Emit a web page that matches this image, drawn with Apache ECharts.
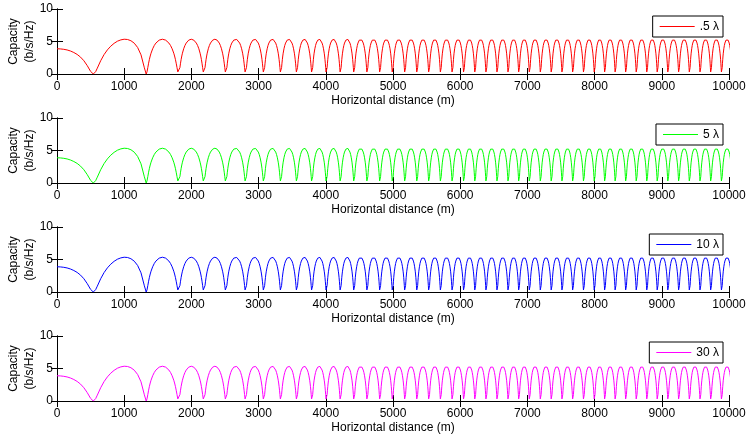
<!DOCTYPE html>
<html>
<head>
<meta charset="utf-8">
<title>Capacity vs horizontal distance</title>
<script src="https://cdn.jsdelivr.net/npm/echarts@6/dist/echarts.min.js"></script>
<style>
  html, body { margin: 0; padding: 0; background: #fff; }
  #chart { width: 747px; height: 434px; }
</style>
</head>
<body>
<div id="chart"></div>
<script>
// Antenna spacing of each panel
const spacingLabels = ['.5 \u03bb', '5 \u03bb', '10 \u03bb', '30 \u03bb'];

// Capacity (b/s/Hz) from 0 m through the first full lobe
const nearDist = [0, 50, 100, 150, 200, 250, 300, 350, 400, 450, 500, 540,
  575, 600, 650, 700, 750, 800, 850, 900, 950, 1000, 1050, 1100, 1150,
  1200, 1250, 1300, 1327];
const nearCap = [3.88, 3.86, 3.80, 3.70, 3.54, 3.31, 3.01, 2.60, 2.04, 1.29, 0.40, 0,
  0.36, 0.90, 2.04, 2.98, 3.71, 4.28, 4.72, 5.05, 5.25, 5.35, 5.31, 5.12, 4.74,
  4.08, 2.95, 0.95, 0];

// Distances (m) where the capacity drops to zero, from the second null on;
// the last one sits just past the end of the axis
const nullDist = [1327, 1810, 2186, 2513, 2806, 3077, 3330, 3568, 3794, 4009,
  4218, 4420, 4616, 4806, 4993, 5178, 5358, 5535, 5709, 5883,
  6054, 6221, 6387, 6551, 6715, 6874, 7032, 7196, 7358, 7518,
  7677, 7838, 7998, 8153, 8309, 8466, 8623, 8780, 8935, 9093,
  9254, 9413, 9572, 9731, 9891, 10051];

// Shape of one lobe between two neighbouring nulls
const archFrac = [0, 0.01, 0.025, 0.05, 0.075, 0.1, 0.125, 0.15, 0.2, 0.25, 0.3,
  0.35, 0.4, 0.45, 0.5, 0.55, 0.6, 0.65, 0.7, 0.75, 0.8, 0.85, 0.875, 0.9,
  0.925, 0.95, 0.975, 0.99, 1];
const archCap = [0, 0.06, 0.32, 0.98, 1.66, 2.26, 2.77, 3.20, 3.88, 4.39, 4.76,
  5.03, 5.21, 5.32, 5.35, 5.32, 5.21, 5.03, 4.76, 4.39, 3.88, 3.20, 2.77, 2.26,
  1.66, 0.98, 0.32, 0.06, 0];

// x/y pairs for the line series
function buildCurve() {
  const pts = nearDist.map((d, i) => [d, nearCap[i]]);
  for (let i = 0; i + 1 < nullDist.length; i++) {
    const a = nullDist[i], b = nullDist[i + 1];
    for (let j = 1; j < archFrac.length; j++) {
      pts.push([a + archFrac[j] * (b - a), archCap[j]]);
    }
  }
  return pts;
}
const curve = buildCurve();

const FONT = "'Liberation Sans', Arial, Helvetica, sans-serif";
const colors = ['#ff0000', '#00ff00', '#0000ff', '#ff00ff'];
const panelTop = [9, 118, 227, 336];
const legendTop = [16, 124, 234, 342];
const PLOT_LEFT = 57, PLOT_W = 672, PLOT_H = 65;

const frameLine = { show: true, lineStyle: { color: '#000', width: 1 } };
const innerTick = { show: true, inside: true, length: 6, lineStyle: { color: '#000', width: 1 } };
const labelStyle = { color: '#000', fontSize: 12, fontFamily: FONT };
const plainNumber = v => String(v);

const grid = [], xAxis = [], yAxis = [], series = [], legend = [];
panelTop.forEach((top, i) => {
  grid.push({ left: PLOT_LEFT, top: top, width: PLOT_W, height: PLOT_H,
    containLabel: false, outerBoundsMode: 'none' });
  const xBase = { gridIndex: i, type: 'value', min: 0, max: 10000, interval: 1000,
    splitLine: { show: false }, axisLine: frameLine, axisTick: innerTick };
  xAxis.push(Object.assign({}, xBase, {
    position: 'bottom',
    axisLabel: Object.assign({ margin: 7, showMaxLabel: true, showMinLabel: true,
      hideOverlap: false, formatter: plainNumber }, labelStyle),
    name: 'Horizontal distance (m)', nameLocation: 'middle', nameGap: 21,
    nameMoveOverlap: false, nameTextStyle: labelStyle
  }));
  xAxis.push(Object.assign({}, xBase, { position: 'top', axisLabel: { show: false } }));
  const yBase = { gridIndex: i, type: 'value', min: 0, max: 10, interval: 5,
    splitLine: { show: false }, axisLine: frameLine, axisTick: innerTick };
  yAxis.push(Object.assign({}, yBase, {
    position: 'left',
    axisLabel: Object.assign({ margin: 4, formatter: plainNumber }, labelStyle),
    name: 'Capacity\n(b/s/Hz)', nameLocation: 'middle', nameGap: 19, nameRotate: 90,
    nameMoveOverlap: false,
    nameTextStyle: Object.assign({ lineHeight: 16, align: 'center' }, labelStyle)
  }));
  yAxis.push(Object.assign({}, yBase, { position: 'right', axisLabel: { show: false } }));

  series.push({
    name: spacingLabels[i], type: 'line', xAxisIndex: 2 * i, yAxisIndex: 2 * i,
    data: curve, showSymbol: false, symbol: 'none', clip: true,
    lineStyle: { color: colors[i], width: 1 }, itemStyle: { color: colors[i] },
    emphasis: { disabled: true }, animation: false
  });
  legend.push({
    data: [{ name: spacingLabels[i], icon: 'rect' }], right: 24, top: legendTop[i],
    orient: 'vertical', itemWidth: 35, itemHeight: 1, itemGap: 0,
    padding: [4, 4, 4, 7], borderColor: '#000', borderWidth: 1, borderRadius: 0,
    backgroundColor: '#fff', selectedMode: false,
    itemStyle: { color: colors[i], borderWidth: 0 },
    textStyle: Object.assign({ lineHeight: 13, padding: [0, 0, 0, 0] }, labelStyle)
  });
});

const chart = echarts.init(document.getElementById('chart'), null, { renderer: 'canvas' });
chart.setOption({
  backgroundColor: '#fff',
  animation: false,
  grid: grid, xAxis: xAxis, yAxis: yAxis, series: series, legend: legend
});
</script>
</body>
</html>
